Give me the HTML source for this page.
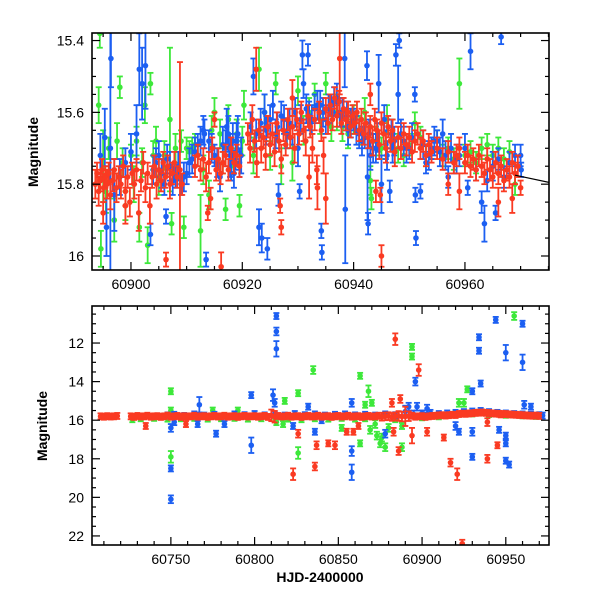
<!DOCTYPE html>
<html><head><meta charset="utf-8">
<style>
html,body{margin:0;padding:0;background:#fff;}
svg text{font-family:"Liberation Sans",Arial,sans-serif;fill:#000;}
</style></head>
<body>
<svg id="chart" width="600" height="600" viewBox="0 0 600 600" xmlns="http://www.w3.org/2000/svg">
<defs>
<clipPath id="clipTop"><rect x="92" y="33" width="457" height="237"/></clipPath>
<clipPath id="clipBot"><rect x="92" y="306" width="457" height="239"/></clipPath>
</defs>
<g id="top-panel"></g>
<g id="bot-panel"></g>
<text transform="translate(38,152) rotate(-90)" text-anchor="middle" font-size="14" font-weight="bold">Magnitude</text>
<text transform="translate(47,426) rotate(-90)" text-anchor="middle" font-size="14" font-weight="bold">Magnitude</text>
<text x="320" y="582" text-anchor="middle" font-size="14" font-weight="bold" font-family="Liberation Mono, monospace">HJD-2400000</text>
</svg>
<script>
// ---------- TOP PANEL DATA: [HJD, mag, err] ----------
const topGreen = [[60894.2,15.58,.05],[60894.4,15.38,.04],[60894.6,15.98,.05],[60895,15.75,.1],[60895.5,15.82,.06],[60896,15.70,.03],[60897,15.90,.06],[60897.5,15.68,.05],[60898,15.53,.03],[60898.5,15.74,.04],[60899,15.86,.04],[60900,15.72,.03],[60900.5,15.80,.05],[60901,15.68,.04],[60901.5,15.92,.04],[60902,15.74,.04],[60902.5,15.58,.05],[60903,15.97,.05],[60903.5,15.52,.03],[60904,15.72,.04],[60904.5,15.68,.04],[60905,15.78,.05],[60906,15.72,.04],[60907,15.62,.2],[60907.3,15.91,.03],[60908,15.70,.04],[60909,15.68,.03],[60909.5,15.92,.03],[60910,15.70,.03],[60910.5,15.71,.03],[60911,15.70,.03],[60911.5,15.69,.03],[60912,15.72,.03],[60912.5,15.93,.1],[60913,15.76,.04],[60914,15.83,.04],[60914.5,15.65,.04],[60915,15.60,.04],[60916,15.66,.04],[60916.5,15.74,.03],[60917,15.87,.03],[60917.5,15.62,.04],[60918,15.75,.04],[60919,15.66,.04],[60919.5,15.86,.03],[60920,15.68,.04],[60920.3,15.58,.04],[60922,15.72,.05],[60923,15.48,.06],[60924,15.60,.05],[60925,15.72,.04],[60926,15.52,.03],[60927,15.75,.05],[60928,15.66,.04],[60929,15.74,.05],[60930,15.54,.04],[60931,15.65,.04],[60932,15.60,.04],[60933,15.55,.03],[60934,15.62,.04],[60935,15.52,.03],[60936,15.64,.04],[60937,15.60,.05],[60938,15.64,.04],[60939,15.66,.04],[60940,15.62,.04],[60941,15.65,.04],[60942,15.60,.04],[60943,15.79,.04],[60943.2,15.84,.03],[60944,15.68,.04],[60945,15.70,.03],[60946,15.62,.04],[60947,15.66,.04],[60948,15.70,.04],[60949,15.72,.03],[60950,15.69,.03],[60951,15.63,.03],[60952,15.67,.03],[60953,15.72,.03],[60954,15.70,.03],[60955,15.68,.03],[60956,15.72,.03],[60957,15.70,.03],[60958,15.73,.03],[60959,15.52,.07],[60960,15.72,.03],[60961,15.71,.03],[60962,15.74,.03],[60963,15.70,.03],[60964,15.69,.03],[60965,15.72,.03],[60966,15.70,.03],[60967,15.73,.03],[60968,15.71,.03],[60969,15.80,.03]];
const topBlue = [[60894.5,15.72,.06],[60895.3,15.67,.08],[60895.6,15.92,.08],[60896.3,15.70,.35],[60896.4,15.45,.08],[60897,15.83,.1],[60898,15.78,.05],[60899,15.74,.04],[60900,15.71,.05],[60901,15.66,.08],[60901.5,15.48,.1],[60902,15.52,.1],[60902.6,15.47,.12],[60903.5,15.94,.03],[60904,15.76,.04],[60905,15.72,.04],[60906,15.80,.03],[60906.3,15.89,.02],[60907,15.75,.04],[60908,15.78,.03],[60909,15.80,.03],[60910,15.77,.03],[60911,15.73,.04],[60912,15.69,.03],[60913,15.65,.04],[60913.5,16.01,.01],[60914,15.68,.03],[60915,15.72,.03],[60916,15.78,.04],[60917,15.70,.05],[60917.5,15.66,.05],[60918,15.73,.06],[60918.5,15.77,.04],[60919,15.68,.05],[60919.5,15.74,.04],[60922,15.50,.05],[60923,15.92,.05],[60923.5,15.95,.04],[60924,15.60,.05],[60924.5,15.98,.03],[60925.5,15.58,.04],[60926,15.66,.04],[60926.5,15.83,.03],[60927.5,15.62,.04],[60928,15.66,.04],[60929,15.64,.05],[60930,15.70,.05],[60930.3,15.82,.02],[60930.8,15.44,.04],[60931,15.52,.04],[60931.8,15.44,.03],[60932.5,15.62,.04],[60933,15.59,.04],[60934,15.58,.04],[60934.2,15.93,.02],[60934.3,15.99,.02],[60935,15.62,.04],[60936,15.58,.03],[60937,15.56,.04],[60938,15.60,.04],[60938.4,15.45,.08],[60938.5,15.87,.15],[60939,15.65,.04],[60940,15.62,.03],[60941,15.66,.04],[60942,15.67,.03],[60942.4,15.47,.04],[60942.5,15.78,.12],[60942.6,15.91,.03],[60943,15.72,.04],[60944,15.70,.04],[60944.5,15.52,.08],[60945,15.80,.08],[60945.5,15.62,.04],[60946,15.72,.04],[60946.5,15.82,.03],[60947,15.70,.04],[60947.6,15.44,.03],[60948,15.55,.08],[60948.2,15.40,.02],[60949,15.68,.04],[60950,15.70,.03],[60951,15.55,.02],[60951.1,15.83,.02],[60951.2,15.95,.01],[60952,15.82,.02],[60953,15.74,.03],[60954,15.70,.03],[60955,15.68,.03],[60956,15.66,.04],[60956.5,15.72,.04],[60957,15.78,.03],[60958,15.74,.03],[60959,15.72,.03],[60960,15.70,.04],[60960.5,15.81,.02],[60961,15.43,.05],[60962,15.76,.03],[60963,15.85,.03],[60963.5,15.91,.05],[60964,15.79,.03],[60965,15.75,.04],[60965.5,15.88,.02],[60966,15.73,.03],[60966.5,15.39,.02],[60967,15.78,.03],[60968,15.74,.03],[60969,15.72,.03],[60970,15.72,.03],[60970.1,15.76,.02],
[60904.5,15.74,.04],[60905.5,15.77,.04],[60906.5,15.73,.04],[60907.5,15.79,.04],[60908.5,15.75,.04],[60909.5,15.78,.04],[60910.5,15.74,.04],[60911.5,15.71,.04],[60912.5,15.68,.04],[60913.2,15.66,.04],[60914.5,15.70,.04],[60915.5,15.74,.04],[60916.5,15.69,.05],[60917.2,15.64,.05],[60917.8,15.72,.06],[60918.3,15.68,.05],[60918.8,15.71,.05],[60919.2,15.66,.05],[60919.8,15.72,.05],[60921.5,15.64,.04],[60922.5,15.66,.04],[60923.3,15.63,.04],[60924.3,15.65,.04],[60925,15.62,.04],[60926.3,15.64,.04],[60927,15.61,.04],[60928.5,15.63,.04],[60929.5,15.60,.04],[60930.5,15.62,.04],[60931.5,15.59,.04],[60932,15.61,.04],[60933.5,15.58,.04],[60934.5,15.60,.04],[60935.5,15.59,.04],[60936.5,15.57,.04],[60937.5,15.60,.04],[60938.8,15.61,.04],[60939.5,15.63,.04],[60940.5,15.65,.04],[60941.5,15.68,.04],[60942.8,15.66,.04],[60943.5,15.70,.04],[60944.3,15.67,.04],[60945.8,15.69,.04],[60946.8,15.66,.04],[60947.3,15.68,.04],[60948.5,15.66,.04],[60949.5,15.70,.04],[60950.5,15.67,.04],[60952.5,15.69,.04],[60953.5,15.72,.04],[60954.5,15.68,.04],[60955.5,15.71,.04],[60957.5,15.70,.04],[60958.5,15.73,.04]];
const topRed = [[60893.6,15.80,.04],[60893.9,15.77,.03],[60894.2,15.82,.04],[60894.5,15.79,.03],[60894.8,15.76,.03],[60895.1,15.81,.04],[60895.4,15.78,.03],[60895.7,15.80,.04],[60896.0,15.77,.03],[60896.3,15.83,.04],[60896.7,15.79,.03],[60897.0,15.76,.03],[60897.4,15.81,.04],[60897.8,15.78,.03],[60898.2,15.80,.04],[60898.6,15.75,.03],[60899.0,15.82,.04],[60899.4,15.78,.03],[60899.8,15.85,.04],[60900.2,15.77,.03],[60900.6,15.80,.04],[60901.0,15.76,.03],[60901.4,15.88,.05],[60901.8,15.79,.03],[60902.2,15.74,.03],[60902.6,15.81,.04],[60903.0,15.77,.03],[60903.4,15.86,.05],[60903.8,15.78,.03],[60904.2,15.75,.03],[60904.6,15.80,.04],[60905.0,15.76,.03],[60905.4,15.79,.03],[60905.8,15.74,.03],[60906.2,15.78,.03],[60906.6,15.75,.03],[60907.0,15.80,.04],[60907.4,15.77,.03],[60907.8,15.74,.03],[60908.3,15.78,.03],[60908.8,15.76,.3],[60909.2,15.80,.03],[60911.5,15.75,.03],[60912,15.72,.03],[60912.5,15.76,.03],[60913,15.73,.03],[60913.5,15.78,.04],[60914,15.74,.03],[60914.3,15.84,.03],[60914.6,15.70,.03],[60915,15.62,.02],[60915.3,15.76,.03],[60915.7,15.73,.03],[60916.1,15.77,.03],[60916.5,15.74,.03],[60917,15.72,.03],[60917.5,15.76,.03],[60918,15.70,.03],[60918.5,15.74,.03],[60919,15.72,.03],[60919.5,15.75,.03],[60906.3,16.01,.01],[60913.8,15.88,.02],[60916.2,16.03,.04],[60921,15.66,.03],[60921.4,15.70,.04],[60921.8,15.62,.04],[60922.2,15.68,.03],[60922.6,15.74,.04],[60923,15.65,.03],[60923.4,15.70,.04],[60923.8,15.67,.03],[60924.2,15.72,.04],[60924.6,15.64,.03],[60925,15.69,.03],[60925.4,15.66,.03],[60925.8,15.71,.04],[60926.2,15.63,.03],[60926.6,15.68,.03],[60927,15.73,.04],[60927.4,15.65,.03],[60927.8,15.69,.03],[60928.2,15.62,.03],[60928.6,15.67,.03],[60929,15.64,.03],[60929.4,15.70,.04],[60929.8,15.62,.03],[60930.2,15.66,.03],[60930.6,15.60,.03],[60931,15.65,.03],[60931.4,15.68,.04],[60931.8,15.61,.03],[60932.2,15.64,.03],[60932.6,15.70,.04],[60933,15.62,.03],[60933.4,15.76,.04],[60933.8,15.60,.03],[60934.2,15.65,.03],[60934.6,15.72,.05],[60935,15.59,.03],[60935.4,15.63,.03],[60935.8,15.58,.03],[60936.2,15.62,.03],[60936.6,15.56,.03],[60937,15.61,.03],[60937.4,15.57,.03],[60937.8,15.63,.03],[60938.2,15.59,.03],[60938.6,15.62,.03],[60939,15.60,.03],[60939.4,15.64,.03],[60939.8,15.61,.03],[60940.2,15.63,.03],[60940.6,15.60,.03],[60941,15.65,.03],[60941.4,15.62,.03],[60941.8,15.66,.03],[60942.2,15.63,.03],[60942.6,15.67,.03],[60943,15.64,.03],[60943.4,15.68,.04],[60943.8,15.62,.03],[60944.2,15.65,.03],[60944.6,15.69,.04],[60945,15.63,.03],[60945.4,15.66,.03],[60945.8,15.70,.04],[60946.2,15.64,.03],[60946.6,15.68,.03],[60947,15.65,.03],[60947.4,15.71,.04],[60948,15.67,.03],[60948.5,15.70,.03],[60949,15.66,.03],[60949.5,15.69,.03],[60950,15.67,.03],[60950.5,15.71,.03],[60951,15.68,.03],[60951.5,15.66,.03],[60952,15.70,.03],[60952.5,15.68,.03],[60953,15.72,.03],[60953.5,15.69,.03],[60954,15.71,.03],[60955,15.70,.03],[60956,15.73,.03],[60957,15.71,.03],[60958,15.74,.03],[60958.5,15.72,.03],[60959,15.70,.03],[60960,15.74,.03],[60960.5,15.72,.03],[60961,15.75,.03],[60961.5,15.73,.03],[60962,15.76,.03],[60962.5,15.72,.03],[60963,15.75,.03],[60963.5,15.77,.03],[60964,15.73,.03],[60964.5,15.76,.03],[60965,15.78,.03],[60965.5,15.74,.03],[60966,15.77,.03],[60966.5,15.75,.03],[60967,15.79,.03],[60967.5,15.76,.03],[60968,15.78,.03],[60968.5,15.74,.03],[60969,15.77,.03],[60969.5,15.75,.03],[60922.5,15.48,.06],[60926.8,15.86,.02],[60927,15.92,.02],[60929,15.56,.05],[60932,15.78,.06],[60933.5,15.81,.06],[60935,15.84,.07],[60937.5,15.45,.1],[60943,15.55,.03],[60944,15.82,.03],[60945,16.00,.03],[60944.8,15.83,.02],[60957,15.80,.03],[60959,15.82,.05],[60966,15.85,.04],[60968.5,15.84,.04],[60970,15.81,.02],[60895,15.88,.03],[60899,15.86,.05]];
const topTrendX = [60969, 60975.1];
const topTrendY = [15.775, 15.795];
const topXTicks = [60900, 60920, 60940, 60960];
const topYTicks = [15.4, 15.6, 15.8, 16];

// ---------- BOTTOM PANEL DATA: [HJD, mag, err] ----------
const botRed = [[60708,15.80,.1],[60710,15.82,.1],[60712,15.79,.1],[60714,15.81,.1],[60716,15.80,.1],[60718,15.78,.1],[60726,15.80,.12],[60728,15.83,.12],[60730,15.78,.12],[60732,15.81,.12],[60734,15.80,.12],[60736,15.77,.12],[60738,15.82,.12],[60740,15.80,.12],[60742,15.79,.12],[60744,15.83,.12],[60746,15.80,.12],[60748,15.76,.12],[60750,15.82,.15],[60752,15.80,.12],[60754,15.78,.12],[60756,15.83,.12],[60758,15.79,.12],[60760,15.81,.12],[60762,15.80,.12],[60764,15.77,.12],[60766,15.82,.12],[60768,15.80,.12],[60770,15.79,.12],[60772,15.83,.12],[60774,15.80,.12],[60776,15.78,.15],[60778,15.81,.12],[60780,15.80,.12],[60782,15.77,.12],[60784,15.82,.12],[60786,15.80,.12],[60788,15.79,.12],[60790,15.83,.12],[60792,15.80,.12],[60794,15.78,.12],[60796,15.81,.12],[60798,15.80,.12],[60800,15.79,.12],[60802,15.82,.12],[60804,15.80,.12],[60806,15.78,.12],[60808,15.83,.15],[60810,15.75,.3],[60812,15.82,.3],[60814,15.78,.15],[60816,15.81,.12],[60818,15.80,.12],[60820,15.77,.12],[60822,15.82,.12],[60824,15.80,.12],[60826,15.79,.12],[60828,15.83,.12],[60830,15.80,.12],[60832,15.78,.12],[60834,15.81,.12],[60836,15.80,.12],[60838,15.77,.12],[60840,15.82,.12],[60842,15.80,.12],[60844,15.79,.12],[60846,15.83,.12],[60848,15.80,.12],[60850,15.78,.12],[60852,15.81,.12],[60854,15.80,.12],[60856,15.77,.12],[60858,15.82,.15],[60860,15.80,.12],[60862,15.79,.12],[60864,15.83,.15],[60866,15.80,.15],[60868,15.78,.15],[60870,15.81,.15],[60872,15.80,.15],[60874,15.77,.15],[60876,15.82,.2],[60878,15.80,.2],[60880,15.79,.2],[60882,15.83,.2],[60884,15.80,.2],[60886,15.78,.25],[60888,15.81,.25],[60890,15.80,.5],[60892,15.79,.25],[60894,15.77,.12],[60896,15.82,.12],[60898,15.80,.12],[60900,15.79,.12],[60902,15.83,.12],[60904,15.80,.12],[60906,15.78,.12],[60908,15.77,.12],[60910,15.75,.12],[60912,15.74,.12],[60914,15.76,.12],[60916,15.74,.12],[60918,15.72,.12],[60920,15.73,.12],[60922,15.68,.12],[60924,15.66,.12],[60926,15.67,.12],[60928,15.65,.12],[60930,15.64,.12],[60932,15.62,.12],[60934,15.61,.12],[60936,15.60,.12],[60938,15.62,.12],[60940,15.63,.12],[60942,15.65,.12],[60944,15.66,.12],[60946,15.67,.12],[60948,15.68,.12],[60950,15.68,.12],[60952,15.70,.12],[60954,15.71,.12],[60956,15.72,.12],[60958,15.73,.12],[60960,15.74,.12],[60962,15.75,.12],[60964,15.76,.12],[60966,15.77,.12],[60968,15.76,.12],[60970,15.78,.12],[60735,16.3,.15],[60759,16.2,.1],[60823,18.8,.3],[60826,16.7,.2],[60837,17.3,.2],[60836,18.4,.2],[60844,17.2,.15],[60848,17.3,.2],[60855,16.6,.1],[60859,16.6,.15],[60862,16.3,.15],[60884,11.8,.3],[60887,14.9,.2],[60882,15.1,.2],[60883,16.6,.2],[60886,17.6,.2],[60894,16.8,.4],[60898,13.4,.3],[60903,16.6,.2],[60913,16.9,.15],[60917,18.2,.2],[60921,18.8,.3],[60924,22.4,.2],[60939,18.0,.2],[60945,17.3,.1],[60939,16.1,.2],[60947,15.7,.1]];
const botBlue = [[60748,15.75,.1],[60752,15.72,.1],[60758,15.78,.1],[60764,15.70,.1],[60770,15.76,.1],[60776,15.72,.1],[60782,15.78,.1],[60788,15.70,.1],[60794,15.74,.1],[60800,15.68,.1],[60806,15.75,.1],[60812,15.70,.1],[60818,15.76,.1],[60824,15.68,.1],[60830,15.74,.1],[60836,15.70,.1],[60842,15.76,.1],[60848,15.72,.1],[60854,15.70,.1],[60860,15.75,.1],[60866,15.72,.1],[60872,15.76,.1],[60878,15.70,.1],[60884,15.74,.1],[60890,15.55,.3],[60895,15.70,.2],[60900,15.65,.1],[60905,15.62,.1],[60910,15.68,.1],[60915,15.65,.1],[60920,15.62,.1],[60925,15.58,.1],[60930,15.55,.1],[60935,15.52,.1],[60940,15.58,.1],[60945,15.62,.1],[60950,15.65,.1],[60955,15.68,.1],[60960,15.70,.1],[60965,15.72,.1],[60970,15.74,.1],[60972,15.76,.1],[60813,10.6,.15],[60813,11.4,.2],[60813,12.3,.4],[60798,14.7,.15],[60767,15.2,.4],[60750,16.4,.2],[60750,18.5,.15],[60750,20.1,.2],[60798,17.3,.4],[60777,16.7,.15],[60811,14.7,.3],[60812,15.1,.2],[60836,16.6,.1],[60858,15.1,.2],[60858,17.6,.25],[60858,18.7,.4],[60878,16.7,.2],[60896,14.0,.2],[60892,15.3,.2],[60930,14.5,.1],[60930,16.6,.2],[60930,17.9,.1],[60934,11.7,.15],[60934,12.4,.15],[60935,14.1,.1],[60944,10.8,.15],[60950,12.5,.4],[60950,16.8,.1],[60950,17.2,.1],[60950,18.1,.1],[60952,18.3,.1],[60960,11.0,.15],[60960,13.0,.4],[60961,15.2,.2],[60965,15.3,.1],[60946,16.5,.1],[60922,16.6,.1],[60920,16.3,.2],[60752,16.1,.15],[60766,16.2,.1],[60782,16.2,.1],[60832,15.3,.15],[60823,16.3,.1],[60840,16.0,.1],[60897,15.3,.2],[60903,15.4,.2]];
const botGreen = [[60727,15.95,.1],[60732,15.90,.1],[60740,15.88,.1],[60748,15.92,.1],[60756,15.90,.1],[60764,15.88,.1],[60772,15.92,.1],[60780,15.90,.1],[60788,15.88,.1],[60796,15.92,.1],[60804,15.90,.1],[60812,15.88,.2],[60820,15.92,.1],[60828,15.95,.1],[60836,15.90,.1],[60844,15.92,.1],[60852,15.88,.1],[60860,15.92,.1],[60866,15.90,.1],[60872,16.2,.2],[60884,15.95,.1],[60900,15.85,.1],[60910,15.80,.1],[60920,15.70,.1],[60930,15.65,.1],[60940,15.68,.1],[60950,15.72,.1],[60960,15.75,.1],[60968,15.78,.1],[60750,14.5,.15],[60750,17.9,.3],[60750,15.5,.1],[60818,15.0,.15],[60826,14.6,.1],[60826,17.7,.3],[60835,13.4,.2],[60863,13.7,.1],[60868,14.5,.3],[60894,12.2,.05],[60894,12.7,.05],[60875,17.2,.2],[60878,17.4,.2],[60873,16.8,.2],[60880,16.4,.2],[60888,17.4,.2],[60927,14.4,.15],[60922,15.1,.2],[60925,15.1,.2],[60955,10.6,.2],[60863,17.2,.15],[60866,15.2,.15],[60870,15.1,.15],[60852,16.4,.15],[60869,16.5,.2],[60876,16.9,.2],[60813,16.1,.1],[60817,16.2,.1],[60888,16.3,.1],[60775,15.5,.15],[60790,15.5,.15]];
const botXTicks = [60750, 60800, 60850, 60900, 60950];
const botYTicks = [12, 14, 16, 18, 20, 22];

const COLORS = {green:'#3de83a', blue:'#1c5ff2', red:'#fa3a22'};
const NS = 'http://www.w3.org/2000/svg';

function mk(tag, attrs, parent){
  const e = document.createElementNS(NS, tag);
  for (const k in attrs) e.setAttribute(k, attrs[k]);
  parent.appendChild(e);
  return e;
}
function scale(d0, d1, r0, r1){ return v => r0 + (v - d0) * (r1 - r0) / (d1 - d0); }

function drawPanel(g, cfg){
  const {L, R, T, B, xs, ys, clip} = cfg;
  const data = mk('g', {'clip-path':'url(#'+clip+')'}, g);
  
  
  const series = [['green', cfg.green], ['blue', cfg.blue], ['red', cfg.red]];
  series.forEach(([name, arr]) => {
    const sg = mk('g', {stroke: COLORS[name], fill: COLORS[name], 'stroke-width': 1.8}, data);
    
    
    arr.forEach(p => {
      const x = xs(p[0]), y = ys(p[1]);
      const half = Math.max(Math.abs(ys(p[1] + p[2]) - y), cfg.minBar);
      const y1 = y - half, y2 = y + half;
      mk('line', {x1:x, x2:x, y1:y1, y2:y2}, sg);
      mk('line', {x1:x-3, x2:x+3, y1:y1, y2:y1}, sg);
      mk('line', {x1:x-3, x2:x+3, y1:y2, y2:y2}, sg);
      const c = mk('circle', {cx:x, cy:y, r:2.8, stroke:'none'}, sg);
      
      
    });
  });
  if (cfg.trendX){
    const tl = mk('line', {x1:xs(cfg.trendX[0]), y1:ys(cfg.trendY[0]), x2:xs(cfg.trendX[1]), y2:ys(cfg.trendY[1]), stroke:'#000', 'stroke-width':1.2}, data);
    
    
  }
  const fr = mk('rect', {x:L, y:T, width:R-L, height:B-T, fill:'none', stroke:'#000', 'stroke-width':1.6}, g);
  
  
  const tk = mk('g', {stroke:'#000', 'stroke-width':1.2}, g);
  
  
  for (let v = cfg.xMinorStart; v <= cfg.xMax; v += cfg.xMinor){
    const x = xs(v); if (x < L || x > R) continue;
    const major = Math.abs((v - cfg.xMajorRef) % cfg.xMajor) < 1e-6;
    const len = major ? 8 : 4;
    mk('line', {x1:x, x2:x, y1:B, y2:B-len}, tk);
    mk('line', {x1:x, x2:x, y1:T, y2:T+len}, tk);
  }
  for (let i = 0; ; i++){
    const v = cfg.yMinorStart + i * cfg.yMinor;
    const y = ys(v); if (y > B + 0.5) break;
    if (y < T) continue;
    const r = (v - cfg.yMajorRef) / cfg.yMajor;
    const major = Math.abs(r - Math.round(r)) < 1e-6;
    const len = major ? 8 : 4;
    mk('line', {x1:L, x2:L+len, y1:y, y2:y}, tk);
    mk('line', {x1:R, x2:R-len, y1:y, y2:y}, tk);
  }
  cfg.xTicks.forEach(v => {
    const t = mk('text', {x:xs(v), y:B+19, 'text-anchor':'middle', 'font-size':14}, g);
    t.textContent = v;
    
    
  });
  cfg.yTicks.forEach(v => {
    const t = mk('text', {x:L-8, y:ys(v)+5, 'text-anchor':'end', 'font-size':14}, g);
    t.textContent = v;
    
    
  });
}

drawPanel(document.getElementById('top-panel'), {
  L:92, R:549, T:33, B:270, clip:'clipTop', minBar:7,
  xs: scale(60893.0, 60975.1, 92, 549),
  ys: scale(15.379, 16.039, 33, 270),
  green: topGreen, blue: topBlue, red: topRed,
  trendX: topTrendX, trendY: topTrendY,
  xTicks: topXTicks, yTicks: topYTicks,
  xMinorStart: 60895, xMax: 60976, xMinor: 5, xMajor: 20, xMajorRef: 60900,
  yMinorStart: 15.4, yMinor: 0.05, yMajor: 0.2, yMajorRef: 15.4
});
drawPanel(document.getElementById('bot-panel'), {
  L:92, R:549, T:306, B:545, clip:'clipBot', minBar:3,
  xs: scale(60702.9, 60975.8, 92, 549),
  ys: scale(10.08, 22.47, 306, 545),
  green: botGreen, blue: botBlue, red: botRed,
  xTicks: botXTicks, yTicks: botYTicks,
  xMinorStart: 60710, xMax: 60976, xMinor: 10, xMajor: 50, xMajorRef: 60750,
  yMinorStart: 10.5, yMinor: 0.5, yMajor: 2, yMajorRef: 12
});
</script>
</body></html>
